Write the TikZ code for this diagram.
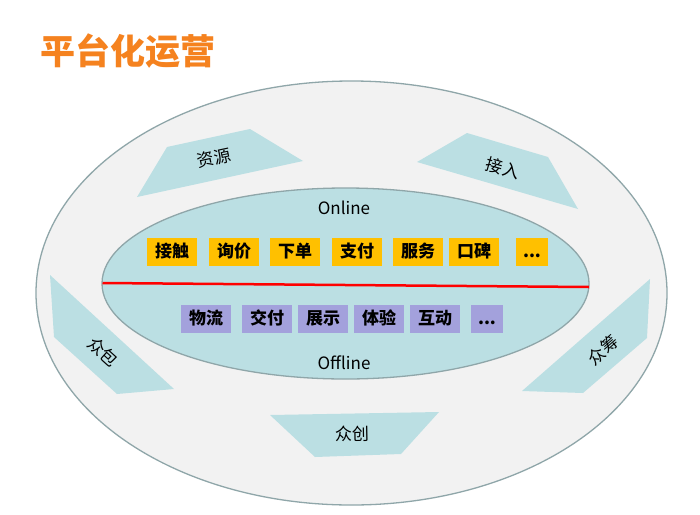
\documentclass[tikz,border=0pt]{standalone}
\usepackage{fontspec}
\setmainfont{Noto Sans CJK SC}
\usetikzlibrary{shapes.geometric}
\definecolor{ringfill}{HTML}{F2F2F2}
\definecolor{ringline}{HTML}{8FA6A9}
\definecolor{corefill}{HTML}{BBDFE3}
\definecolor{onfill}{HTML}{FFC000}
\definecolor{offfill}{HTML}{A3A1DC}
\definecolor{titlec}{HTML}{F5821F}
\tikzset{
  ring/.style = {ellipse, draw=ringline, fill=ringfill, line width=1.3pt, inner sep=0pt},
  core/.style = {ellipse, draw=ringline, fill=corefill, line width=1.3pt, inner sep=0pt},
  onb/.style  = {fill=onfill, minimum width=50pt, minimum height=28pt, inner sep=0pt,
                 text height=13pt, text depth=3pt,
                 font=\bfseries\fontsize{17}{17}\selectfont},
  offb/.style = {onb, fill=offfill},
  wing/.style = {fill=corefill},
  tag/.style  = {inner sep=0pt, font=\fontsize{17}{17}\selectfont},
  sep/.style  = {draw=red, line width=2.5pt},
}
\begin{document}
\begin{tikzpicture}[x=1pt, y=-1pt]

  % ===== page ===========================================================
  \fill[white] (0,0) rectangle (700,514);
  \useasboundingbox (0,0) rectangle (700,514);

  \node[font=\bfseries\fontsize{35}{35}\selectfont, text=titlec, inner sep=0pt]
       (title) at (128,51) {平台化运营};

  % ===== the two rings ==================================================
  \node[ring, minimum width=631pt, minimum height=424pt] (outer) at (351.5,293) {};
  \node[core, minimum width=487pt, minimum height=191pt] (inner) at (345.5,283.5) {};

  \coordinate (sepL) at (102.5,283);
  \coordinate (sepR) at (589,287);
  \draw[sep] (sepL) -- (sepR);

  \node[tag] (online)  at (344,208) {Online};
  \node[tag] (offline) at (344,363) {Offline};

  % ===== online steps ===================================================
  \node[onb]                  (touch)  at (172,252) {接触};
  \node[onb]                  (ask)    at (234,252) {询价};
  \node[onb]                  (order)  at (295,252) {下单};
  \node[onb]                  (pay)    at (357,252) {支付};
  \node[onb]                  (serve)  at (418,252) {服务};
  \node[onb]                  (praise) at (474,252) {口碑};
  \node[onb, minimum width=32pt] (onmore) at (532,252) {...};

  % ===== offline steps ==================================================
  \node[offb]                  (ship)    at (206,319) {物流};
  \node[offb]                  (deliver) at (267,319) {交付};
  \node[offb]                  (show)    at (323,319) {展示};
  \node[offb]                  (try)     at (379,319) {体验};
  \node[offb]                  (talk)    at (435,319) {互动};
  \node[offb, minimum width=32pt] (offmore) at (487,319) {...};

  % ===== the five wings =================================================
  \fill[wing] (137,197) -- (167,147) -- (250,129) -- (303,161) -- cycle;
  \node[tag, rotate=12]  (res)   at (214,158) {资源};

  \fill[wing] (417,162) -- (467,133) -- (548,157) -- (578,209) -- cycle;
  \node[tag, rotate=-16] (join)  at (503,168) {接入};

  \fill[wing] (50,275) -- (174,389) -- (117,394) -- (54,337) -- cycle;
  \node[tag, rotate=-42] (crowd) at (103,352) {众包};

  \fill[wing] (650,279) -- (647,338) -- (583,393) -- (522,391) -- cycle;
  \node[tag, rotate=41]  (fund)  at (603,350) {众筹};

  \fill[wing] (270,415) -- (439,412) -- (401,454) -- (315,457) -- cycle;
  \node[tag, rotate=1]   (make)  at (352,434) {众创};

\end{tikzpicture}
\end{document}
